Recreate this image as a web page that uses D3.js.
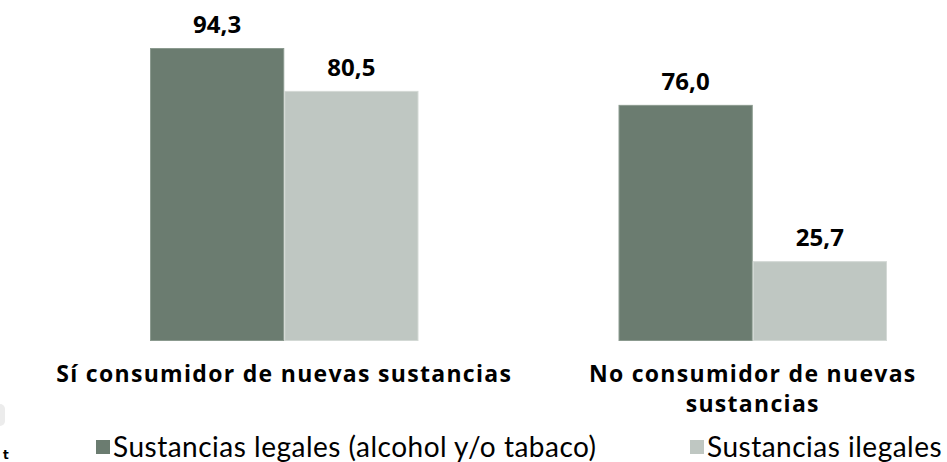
<!DOCTYPE html>
<html lang="es">
<head>
<meta charset="UTF-8">
<title>Consumo de sustancias</title>
<script src="https://d3js.org/d3.v7.min.js"></script>
<style>
  body { margin: 0; background: #ffffff; }
  svg text { fill: #000; }
  .value { font-family: 'Open Sans', sans-serif; font-weight: bold; font-size: 24px; }
  .cat { font-family: 'Open Sans', sans-serif; font-weight: bold; font-size: 23px; letter-spacing: 1.3px; }
  .legend text { font-family: 'Lato', sans-serif; font-size: 28px; letter-spacing: 0.5px; }
</style>
</head>
<body>
<div id="chart"></div>
<script>
// data
const categories = ["Sí consumidor de nuevas sustancias", "No consumidor de nuevas sustancias"];
const categoryLines = [["Sí consumidor de nuevas sustancias"], ["No consumidor de nuevas", "sustancias"]];
const seriesNames = ["Sustancias legales (alcohol y/o tabaco)", "Sustancias ilegales"];
const legalValues = [94.3, 76.0];
const illegalValues = [80.5, 25.7];
const colors = ["#6b7c70", "#bfc7c2"];
const strokes = ["#8b9a8f", "#d3d9d5"];

const W = 947, H = 462;
const svg = d3.select("#chart").append("svg")
    .attr("width", W).attr("height", H);

const x = d3.scaleBand()
    .domain(categories)
    .range([50, 987])
    .paddingInner(0.427)
    .paddingOuter(0.2135);

const xs = d3.scaleBand()
    .domain(seriesNames)
    .range([0, x.bandwidth()]);

const y = d3.scaleLinear().domain([0, 100]).range([341, 30.3]);

const rows = categories.map((c, i) => ({
    cat: c,
    vals: [legalValues[i], illegalValues[i]]
}));

const groups = svg.selectAll(".grp").data(rows).join("g")
    .attr("class", "grp")
    .attr("transform", d => `translate(${x(d.cat)},0)`);

groups.selectAll("rect").data(d => d.vals.map((v, j) => ({v, s: seriesNames[j], j})))
    .join("rect")
    .attr("x", d => xs(d.s) + 0.5)
    .attr("y", d => y(d.v) + 0.5)
    .attr("width", xs.bandwidth() - 1)
    .attr("height", d => y(0) - y(d.v) - 1)
    .attr("fill", d => colors[d.j])
    .attr("stroke", d => strokes[d.j])
    .attr("stroke-width", 1);

groups.selectAll("text.value").data(d => d.vals.map((v, j) => ({v, s: seriesNames[j]})))
    .join("text")
    .attr("class", "value")
    .attr("x", d => xs(d.s) + xs.bandwidth() / 2)
    .attr("y", d => y(d.v) - 15)
    .attr("text-anchor", "middle")
    .text(d => d3.format(".1f")(d.v).replace(".", ","));

// category labels
categories.forEach((c, i) => {
    const t = svg.append("text")
        .attr("class", "cat")
        .attr("text-anchor", "middle")
        .attr("x", x(c) + x.bandwidth() / 2)
        .attr("y", 382);
    categoryLines[i].forEach((line, k) => {
        t.append("tspan")
            .attr("x", x(c) + x.bandwidth() / 2)
            .attr("dy", k === 0 ? 0 : 30)
            .text(line);
    });
});

// legend
const legendX = [96, 690];
const legend = svg.append("g").attr("class", "legend");
seriesNames.forEach((s, i) => {
    legend.append("rect")
        .attr("x", legendX[i]).attr("y", 440)
        .attr("width", 14).attr("height", 14)
        .attr("fill", colors[i]);
    legend.append("text")
        .attr("x", legendX[i] + 17).attr("y", 457)
        .text(s);
});

// faint remnants at the left edge
svg.append("rect")
    .attr("x", -6).attr("y", 404).attr("width", 11).attr("height", 22)
    .attr("rx", 5).attr("fill", "#ececec");
svg.append("text")
    .attr("x", 3).attr("y", 459)
    .style("font-family", "'DejaVu Sans', sans-serif")
    .style("font-weight", "bold")
    .style("font-size", "12px")
    .text("t");
</script>
</body>
</html>
